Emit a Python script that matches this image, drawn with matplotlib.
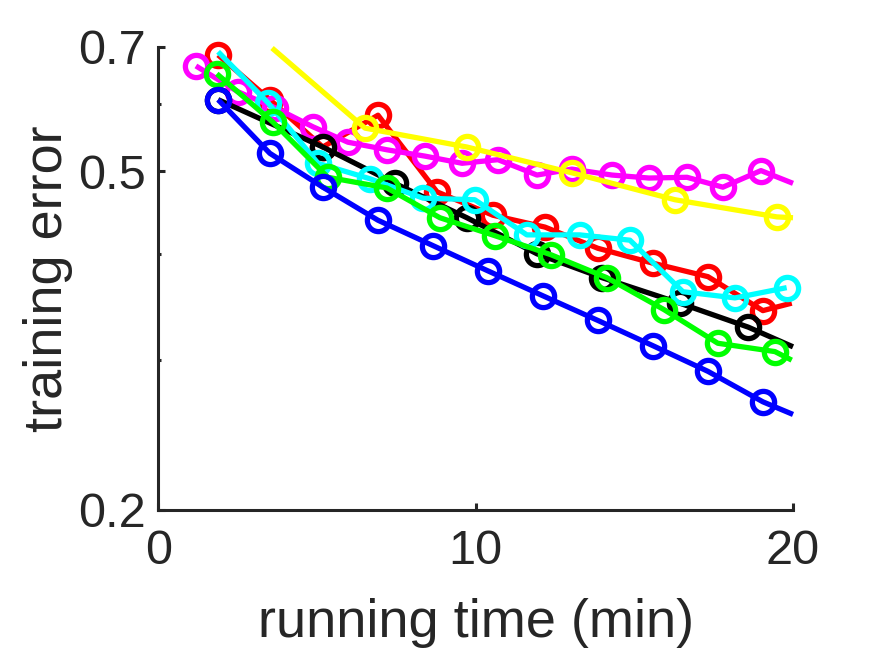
#!/usr/bin/env python
# -*- coding: utf-8 -*-

"""
Training error vs. running time, log-scale y axis, MATLAB-like look.
"""

import matplotlib
matplotlib.use("Agg")
import matplotlib.pyplot as plt
from matplotlib.ticker import FixedLocator, NullFormatter

# values (end points of most series carry no marker)
red_x = [1.88, 3.51, 5.18, 6.92, 8.78, 10.54, 12.18, 13.85, 15.58, 17.32, 19.05, 19.96]
red_y = [0.685, 0.607, 0.534, 0.582, 0.473, 0.444, 0.430, 0.406, 0.390, 0.376, 0.343, 0.350]

magenta_x = [1.18, 2.51, 3.67, 4.87, 5.97, 7.20, 8.40, 9.57, 10.70, 11.93, 13.03,
             14.29, 15.46, 16.66, 17.79, 18.99, 20.0]
magenta_y = [0.665, 0.620, 0.594, 0.564, 0.541, 0.530, 0.521, 0.511, 0.516, 0.495, 0.503,
             0.495, 0.491, 0.492, 0.479, 0.501, 0.484]

black_x = [1.88, 5.18, 7.45, 9.72, 11.93, 13.98, 16.43, 18.59, 20.0]
black_y = [0.607, 0.534, 0.484, 0.441, 0.400, 0.375, 0.350, 0.328, 0.311]

cyan_x = [1.88, 3.45, 5.03, 6.67, 8.34, 9.97, 11.61, 13.28, 14.86, 16.53, 18.17, 19.80]
cyan_y = [0.691, 0.602, 0.511, 0.490, 0.465, 0.463, 0.421, 0.421, 0.415, 0.361, 0.355, 0.365]

green_x = [1.84, 3.61, 5.34, 7.20, 8.87, 10.61, 12.37, 14.13, 15.93, 17.63, 19.43, 19.96]
green_y = [0.651, 0.571, 0.492, 0.478, 0.441, 0.420, 0.399, 0.375, 0.344, 0.314, 0.307, 0.300]

blue_x = [1.88, 3.51, 5.18, 6.92, 8.65, 10.38, 12.12, 13.85, 15.58, 17.32, 19.05, 20.0]
blue_y = [0.607, 0.525, 0.479, 0.438, 0.409, 0.382, 0.357, 0.334, 0.312, 0.291, 0.268, 0.259]

yellow_x = [3.58, 6.51, 9.72, 13.03, 16.28, 19.49, 20.0]
yellow_y = [0.698, 0.562, 0.534, 0.498, 0.463, 0.442, 0.441]

x_ticks = [0, 10, 20]
y_ticks = [0.2, 0.5, 0.7]
y_minor = [0.3, 0.4, 0.6]

TEXT = "#262626"


def main():
    plt.rcParams["font.family"] = ["Liberation Sans", "DejaVu Sans"]

    fig = plt.figure(figsize=(8.75, 6.56), dpi=100)
    ax = fig.add_axes([0.1811, 0.2226, 0.7252, 0.7058])

    series = [
        (red_x, red_y, "#ff0000", slice(0, -1)),
        (magenta_x, magenta_y, "#ff00ff", slice(0, -1)),
        (black_x, black_y, "#000000", slice(0, -1)),
        (cyan_x, cyan_y, "#00ffff", slice(1, None)),
        (green_x, green_y, "#00ff00", slice(0, -1)),
        (blue_x, blue_y, "#0000ff", slice(0, -1)),
        (yellow_x, yellow_y, "#ffff00", slice(1, -1)),
    ]
    for xs, ys, col, mk in series:
        ax.plot(xs, ys, "-o", color=col, lw=3.8, markersize=16,
                markerfacecolor="none", markeredgewidth=3.8, markevery=mk,
                solid_capstyle="butt", clip_on=False)

    ax.set_yscale("log")
    ax.set_xlim(0, 20)
    ax.set_ylim(0.2, 0.7)

    ax.xaxis.set_major_locator(FixedLocator(x_ticks))
    ax.yaxis.set_major_locator(FixedLocator(y_ticks))
    ax.yaxis.set_minor_locator(FixedLocator(y_minor))
    ax.set_xticklabels([str(t) for t in x_ticks])
    ax.set_yticklabels([str(t) for t in y_ticks])
    ax.yaxis.set_minor_formatter(NullFormatter())

    for side in ["top", "right"]:
        ax.spines[side].set_visible(False)
    for side in ["left", "bottom"]:
        ax.spines[side].set_color(TEXT)
        ax.spines[side].set_linewidth(2.2)

    ax.tick_params(which="major", direction="in", length=5, width=2.2,
                   color=TEXT, labelcolor=TEXT, labelsize=35)
    ax.tick_params(which="minor", direction="in", length=2, width=2.2, color=TEXT)
    ax.tick_params(axis="x", pad=14)
    ax.tick_params(axis="y", pad=9)

    ax.set_xlabel("running time (min)", fontsize=39, color=TEXT, labelpad=17)
    ax.set_ylabel("training error", fontsize=39, color=TEXT, labelpad=4)

    fig.savefig("out.png", dpi=100)
    plt.close(fig)
    return 0


if __name__ == "__main__":
    exit(main())
